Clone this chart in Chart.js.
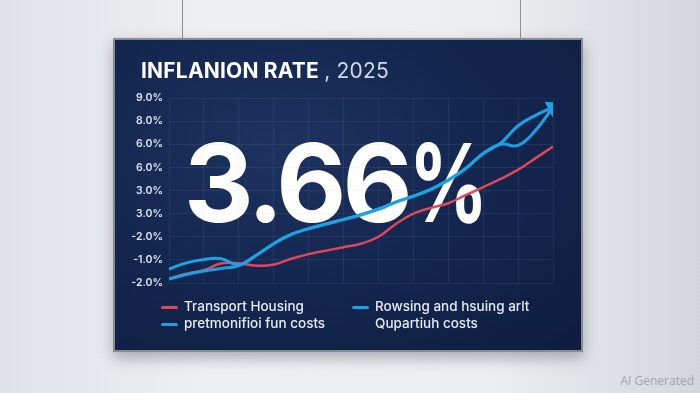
<!DOCTYPE html>
<html>
<head>
<meta charset="utf-8">
<script src="https://cdn.jsdelivr.net/npm/chart.js@4.4.1/dist/chart.umd.min.js"></script>
<style>
  html, body { margin: 0; padding: 0; }
  body {
    width: 700px; height: 393px; position: relative; overflow: hidden;
    background: linear-gradient(90deg, #dfe2e7 0%, #eef0f3 30%, #eceef1 70%, #d3d6dc 100%);
    font-family: Inter, "Open Sans", sans-serif;
  }
  .wire { position: absolute; top: 0; width: 1px; height: 39px; background: #8d9199; }
  #panel {
    position: absolute; left: 113px; top: 38px; width: 466px; height: 310px;
    border: 2px solid #868b96;
    background: radial-gradient(ellipse at 35% 35%, #1d3260 0%, #142750 45%, #0e1d3e 100%);
    box-shadow: 0 6px 14px rgba(40, 45, 60, 0.35);
  }
  #chartBox { position: absolute; left: 115px; top: 40px; width: 466px; height: 310px; }
  #title {
    position: absolute; left: 141px; top: 58px; color: #fff;
    font-size: 21px; font-weight: 700; letter-spacing: 0.2px; white-space: nowrap;
  }
  #title span { font-weight: 400; color: #d3dae6; }
  #big {
    position: absolute; left: 184px; top: 118px; color: #fff;
    font-size: 108px; font-weight: 700; line-height: 130px; letter-spacing: -4px;
    white-space: nowrap;
  }
  #big span { display: inline-block; transform: scaleX(0.72); transform-origin: left center; }
  #legend { position: absolute; left: 161px; top: 298px; color: #e6ebf3; font-size: 13.5px; font-weight: 500; }
  .item { position: absolute; white-space: nowrap; line-height: 17px; }
  .item i { position: absolute; left: 0; top: 8px; width: 17px; height: 3px; border-radius: 2px; }
  .item b { font-weight: 500; position: absolute; left: 23px; top: 0; }
  #ai { position: absolute; right: 6px; bottom: 4px; color: #a0a5ad; font-size: 12px; font-family: "Open Sans", sans-serif; }
</style>
</head>
<body>
<div class="wire" style="left:182px"></div>
<div class="wire" style="left:520px"></div>
<div id="panel"></div>
<div id="big">3.66<span>%</span></div>
<div id="chartBox"><canvas id="inflationChart"></canvas></div>
<div id="title">INFLANION RATE <span>, 2025</span></div>
<div id="legend"></div>
<div id="ai">AI Generated</div>

<script>
// month position (0 = Jan ... 11 = Dec), half-month steps
const periods = [0, 0.5, 1, 1.5, 2, 2.5, 3, 3.5, 4, 4.5, 5, 5.5, 6, 6.5, 7, 7.5, 8, 8.5, 9, 9.5, 10, 10.5, 11]

// y tick labels as printed on the screen, bottom to top
const tickLabels = ['-2.0%', '-1.0%', '-2.0%', '3.0%', '3.0%', '6.0%', '6.0%', '8.0%', '9.0%']

// values are in tick steps (0 = bottom gridline, 8 = top gridline)
const transportHousing = [0.2, 0.4, 0.55, 0.85, 0.85, 0.75, 0.8, 1.05, 1.25, 1.4, 1.55, 1.7, 2.0, 2.55, 3.0, 3.25, 3.45, 3.8, 4.15, 4.5, 4.9, 5.4, 5.9]
const funCosts = [0.17, 0.37, 0.52, 0.63, 0.75, 1.2, 1.7, 2.1, 2.35, 2.55, 2.75, 2.95, 3.2, 3.5, 3.75, 4.05, 4.45, 4.95, 5.6, 6.0, 5.95, 6.6, 7.6]
const housingCosts = [0.6, 0.87, 1.02, 1.05, 0.78, 1.2, 1.7, 2.1, 2.35, 2.55, 2.75, 2.95, 3.2, 3.5, 3.75, 4.05, 4.45, 4.95, 5.6, 6.05, 6.8, 7.25, 7.6]

// legend text (second series label wraps onto two lines)
const seriesLabels = [
  ['Transport Housing'],
  ['pretmonifioi fun costs'],
  ['Rowsing and hsuing arlt', 'Qupartiuh costs']
]
const seriesColors = ['#e2465a', '#1d9fe2', '#1aa3e6']

const toPoints = vals => periods.map((x, i) => ({ x: x, y: vals[i] }))
const last = periods.length - 1

const ctx = document.getElementById('inflationChart')

const chart = new Chart(ctx, {
  type: 'line',
  data: {
    datasets: [
      { label: seriesLabels[0].join(' '), data: toPoints(transportHousing), borderColor: seriesColors[0], borderWidth: 2.5, order: 3, pointRadius: 0, tension: 0.4 },
      { label: seriesLabels[1].join(' '), data: toPoints(funCosts), borderColor: seriesColors[1], borderWidth: 3, order: 2, pointRadius: 0, tension: 0.4 },
      {
        label: seriesLabels[2].join(' '), data: toPoints(housingCosts), borderColor: seriesColors[2], borderWidth: 3, order: 1, tension: 0.4,
        pointStyle: 'triangle',
        pointRadius: c => c.dataIndex === last ? 7 : 0,
        pointRotation: 63,
        pointBackgroundColor: seriesColors[2],
        pointBorderColor: seriesColors[2]
      }
    ]
  },
  options: {
    responsive: true,
    maintainAspectRatio: false,
    animation: false,
    layout: { padding: { left: 0, top: 58, right: 28, bottom: 67 } },
    plugins: { legend: { display: false }, tooltip: { enabled: false } },
    scales: {
      x: {
        type: 'linear', min: 0, max: 11,
        ticks: { display: false, stepSize: 1 },
        grid: { color: 'rgba(160, 180, 220, 0.10)', drawTicks: false },
        border: { display: false },
        afterFit: s => { s.height = 0 }
      },
      y: {
        min: 0, max: 8,
        ticks: {
          stepSize: 1, padding: 6, color: '#dfe5ee',
          font: { family: 'Inter', size: 10.5, weight: '600' },
          callback: v => tickLabels[v]
        },
        grid: { color: 'rgba(160, 180, 220, 0.10)', drawTicks: false },
        border: { display: false },
        afterFit: s => { s.width = 54 }
      }
    }
  }
})

// html legend in two columns, built from the datasets
const legendEl = document.getElementById('legend')
const slots = [[0, 0], [0, 17], [191, 0]]
chart.data.datasets.forEach((ds, i) => {
  const div = document.createElement('div')
  div.className = 'item'
  div.style.left = slots[i][0] + 'px'
  div.style.top = slots[i][1] + 'px'
  div.innerHTML = '<i style="background:' + ds.borderColor + '"></i><b>' + seriesLabels[i].join('<br>') + '</b>'
  legendEl.appendChild(div)
})
</script>
</body>
</html>
